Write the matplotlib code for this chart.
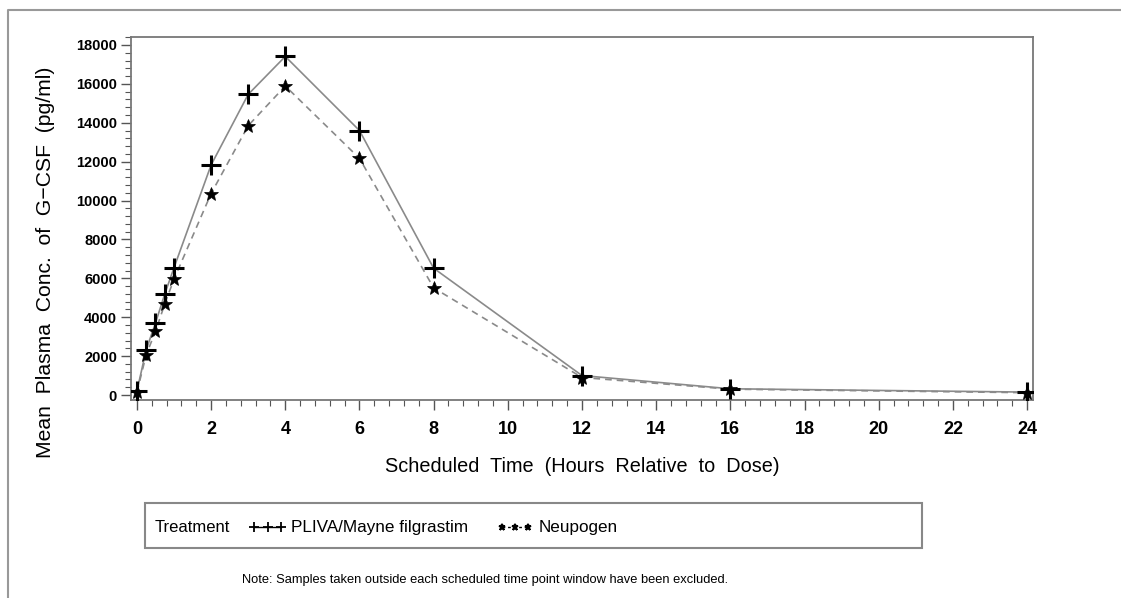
import matplotlib
matplotlib.use("Agg")
import matplotlib.pyplot as plt
from matplotlib.lines import Line2D
from matplotlib.patches import Rectangle
from matplotlib.ticker import AutoMinorLocator

plt.rcParams["font.family"] = ["Liberation Sans", "DejaVu Sans"]

# scheduled sampling times (hours relative to dose)
hours = [0, 0.25, 0.5, 0.75, 1, 2, 3, 4, 6, 8, 12, 16, 24]
# mean plasma G-CSF concentration (pg/ml)
pliva = [200, 2330, 3700, 5190, 6550, 11830, 15460, 17410, 13600, 6520, 1000, 320, 150]
neupogen = [150, 2070, 3270, 4680, 5960, 10360, 13850, 15890, 12170, 5510, 900, 300, 120]
series_names = ["PLIVA/Mayne filgrastim", "Neupogen"]
xticks = list(range(0, 25, 2))
yticks = list(range(0, 18001, 2000))

C_LINE = "#8a8a8a"
C_MARK = "black"
W, H = 1121, 598

fig = plt.figure(figsize=(11.21, 5.98), dpi=100)
ax = fig.add_axes([131 / W, 1 - 400 / H, (1033 - 131) / W, (400 - 37) / H])

ax.plot(hours, pliva, color=C_LINE, lw=1.2, ls="-", zorder=2)
ax.plot(hours, neupogen, color=C_LINE, lw=1.2, ls=(0, (4, 3)), zorder=2)
ax.plot(hours, pliva, ls="none", marker="+", ms=15, mew=2.2, color=C_MARK, zorder=3)
ax.plot(hours, neupogen, ls="none", marker="*", ms=10, mew=0.5, color=C_MARK, zorder=3)

ax.set_xlim(-0.16, 24.16)
ax.set_ylim(-257, 18410)
ax.set_xticks(xticks)
ax.set_yticks(yticks)
ax.xaxis.set_minor_locator(AutoMinorLocator(5))
ax.yaxis.set_minor_locator(AutoMinorLocator(5))
ax.tick_params(which="major", direction="out", length=7, width=1.0, color="#555")
ax.tick_params(which="minor", direction="out", length=4, width=0.8, color="#555")
ax.tick_params(axis="x", labelsize=13, pad=8)
ax.tick_params(axis="y", labelsize=10.5, pad=3)
for lab in ax.get_xticklabels() + ax.get_yticklabels():
    lab.set_fontweight("bold")
for s in ax.spines.values():
    s.set_color("#777")
    s.set_linewidth(1.3)

ax.set_xlabel("Scheduled  Time  (Hours  Relative  to  Dose)", fontsize=14.3, labelpad=14)
ax.set_ylabel("Mean  Plasma  Conc.  of  G\u2212CSF  (pg/ml)", fontsize=15.2)
# label sits lower than the axes centre in the reference
ax.yaxis.set_label_coords((55 - 131) / (1033 - 131), (400 - 262) / (400 - 37))

# legend box drawn in figure pixels
fig.patches.append(Rectangle((145 / W, 1 - 548 / H), (922 - 145) / W, (548 - 503) / H,
                             transform=fig.transFigure, fill=False,
                             edgecolor="#888", lw=1.5))
base = 1 - 532 / H
fig.text(155 / W, base, "Treatment", fontsize=12, va="baseline", ha="left")
for (x0, x1, tx), ls, mk, ms, name in [
        ((254, 281, 291), "-", "+", 7, series_names[0]),
        ((502, 528, 539), (0, (2, 2)), "*", 5, series_names[1])]:
    xs = [x0 / W, (x0 + x1) / 2 / W, x1 / W]
    fig.add_artist(Line2D(xs, [1 - 527 / H] * 3, transform=fig.transFigure,
                          color="black", lw=1.0, ls=ls, marker=mk, ms=ms, mew=1.3))
    fig.text(tx / W, base, name, fontsize=12.3, va="baseline", ha="left")

fig.text(485 / W, 1 - 580 / H,
         "Note: Samples taken outside each scheduled time point window have been excluded.",
         fontsize=9.3, ha="center", va="center")

# outer frame (top and left edges)
fig.add_artist(Line2D([8 / W, 8 / W, 1], [0, 1 - 10 / H, 1 - 10 / H],
                      transform=fig.transFigure, color="#999", lw=1.5))

fig.savefig("out.png", dpi=100)
